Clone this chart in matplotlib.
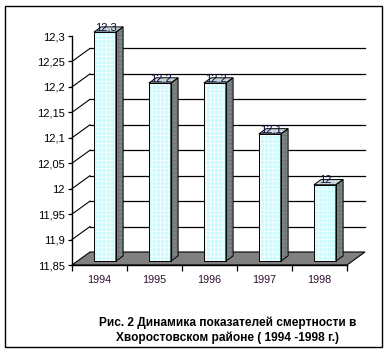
import matplotlib
matplotlib.use("Agg")
import matplotlib.pyplot as plt
from matplotlib.patches import Polygon, Rectangle
from matplotlib.ticker import FuncFormatter

plt.rcParams["font.family"] = ["Liberation Sans", "DejaVu Sans"]
plt.rcParams["hatch.linewidth"] = 0.5

# ---------------------------------------------------------------------------
# Data
# ---------------------------------------------------------------------------
years = ["1994", "1995", "1996", "1997", "1998"]
values = [12.3, 12.2, 12.2, 12.1, 12.0]
value_labels = ["12,3", "12,2", "12,2", "12,1", "12"]
y_ticks = [11.85, 11.9, 11.95, 12.0, 12.05, 12.1, 12.15, 12.2, 12.25, 12.3]
caption = ("Рис. 2 Динамика показателей смертности в\n"
           "Хворостовском районе ( 1994 -1998 г.)")

Y_MIN, Y_MAX = 11.85, 12.3

# ---------------------------------------------------------------------------
# Figure / front plane axes (pixel layout of the original)
# ---------------------------------------------------------------------------
W, H = 388, 354
fig = plt.figure(figsize=(W / 100, H / 100), dpi=100)
fig.patches.append(Rectangle((5 / W, 7 / H), 377 / W, 341 / H,
                             transform=fig.transFigure, fill=False,
                             edgecolor="black", linewidth=1.0))

ax = fig.add_axes([72 / W, (H - 265) / H, 275 / W, 229 / H])
ax.set_xlim(-0.5, len(years) - 0.5)
ax.set_ylim(Y_MIN, Y_MAX)
ax.patch.set_visible(False)

# depth offset of the 3-D box, expressed in data units
DX = 18 / 55
DY = 13 * (Y_MAX - Y_MIN) / 229
F0, F1 = 0.3, 0.7          # bar depth span (fraction of the box depth)
BW = 0.4                   # bar width in categories

x_left = -0.5
x_right = len(years) - 0.5

# floor
floor = Polygon([(x_left, Y_MIN), (x_right, Y_MIN),
                 (x_right + DX, Y_MIN + DY), (x_left + DX, Y_MIN + DY)],
                closed=True, facecolor="#808080", edgecolor="black",
                linewidth=0.8, clip_on=False, zorder=1)
ax.add_patch(floor)

# back wall gridlines + left wall diagonals
for v in y_ticks[1:-1]:
    ax.plot([x_left + DX, x_right + DX], [v + DY, v + DY], color="black",
            linewidth=0.9, clip_on=False, zorder=0.5)
    ax.plot([x_left, x_left + DX], [v, v + DY], color="black",
            linewidth=0.8, clip_on=False, zorder=0.5)

# bars
for i, (v, lab) in enumerate(zip(values, value_labels)):
    x0 = i - BW / 2 + F0 * DX
    x1 = i + BW / 2 + F0 * DX
    yb = Y_MIN + F0 * DY
    yt = v + F0 * DY
    ddx = (F1 - F0) * DX
    ddy = (F1 - F0) * DY
    front = [(x0, yb), (x1, yb), (x1, yt), (x0, yt)]
    side = [(x1, yb), (x1 + ddx, yb + ddy), (x1 + ddx, yt + ddy), (x1, yt)]
    top = [(x0, yt), (x1, yt), (x1 + ddx, yt + ddy), (x0 + ddx, yt + ddy)]
    for pts, fc, hc in [(front, "#c8fcff", "white"),
                        (side, "#7c8484", "#687070"),
                        (top, "#c0d0d0", "#dde8e8")]:
        ax.add_patch(Polygon(pts, closed=True, facecolor=fc, edgecolor=hc,
                             hatch="++++", linewidth=0, clip_on=False, zorder=3))
        ax.add_patch(Polygon(pts, closed=True, fill=False, edgecolor="black",
                             linewidth=0.7, clip_on=False, zorder=4))
    ax.text(i + 0.35 * DX, v + 0.4 * DY, lab, ha="center", va="baseline",
            fontsize=8, color="#0a0a40", zorder=5, clip_on=False)

# axes styling
for s in ["top", "right"]:
    ax.spines[s].set_visible(False)
ax.spines["left"].set_linewidth(1.0)
ax.spines["bottom"].set_linewidth(1.0)
ax.spines["left"].set_zorder(2)
ax.spines["bottom"].set_zorder(2)

ax.set_yticks(y_ticks)
ax.yaxis.set_major_formatter(FuncFormatter(lambda v, p: f"{v:g}".replace(".", ",")))
ax.tick_params(axis="y", direction="out", length=3, width=0.9, pad=2,
               labelsize=8, colors="black")

ax.set_xticks(range(len(years)))
ax.set_xticklabels(years)
ax.set_xticks([k - 0.5 for k in range(len(years) + 1)], minor=True)
ax.tick_params(axis="x", which="major", length=0, pad=7, labelsize=7.8,
               labelcolor="#301030")
ax.tick_params(axis="x", which="minor", direction="out", length=4, width=0.9)

fig.text(228 / W, 1 - 330 / H, caption, ha="center", va="center",
         fontsize=8.6, fontweight="bold", linespacing=1.3, color="black")

fig.savefig("out.png", dpi=100, facecolor="white")
